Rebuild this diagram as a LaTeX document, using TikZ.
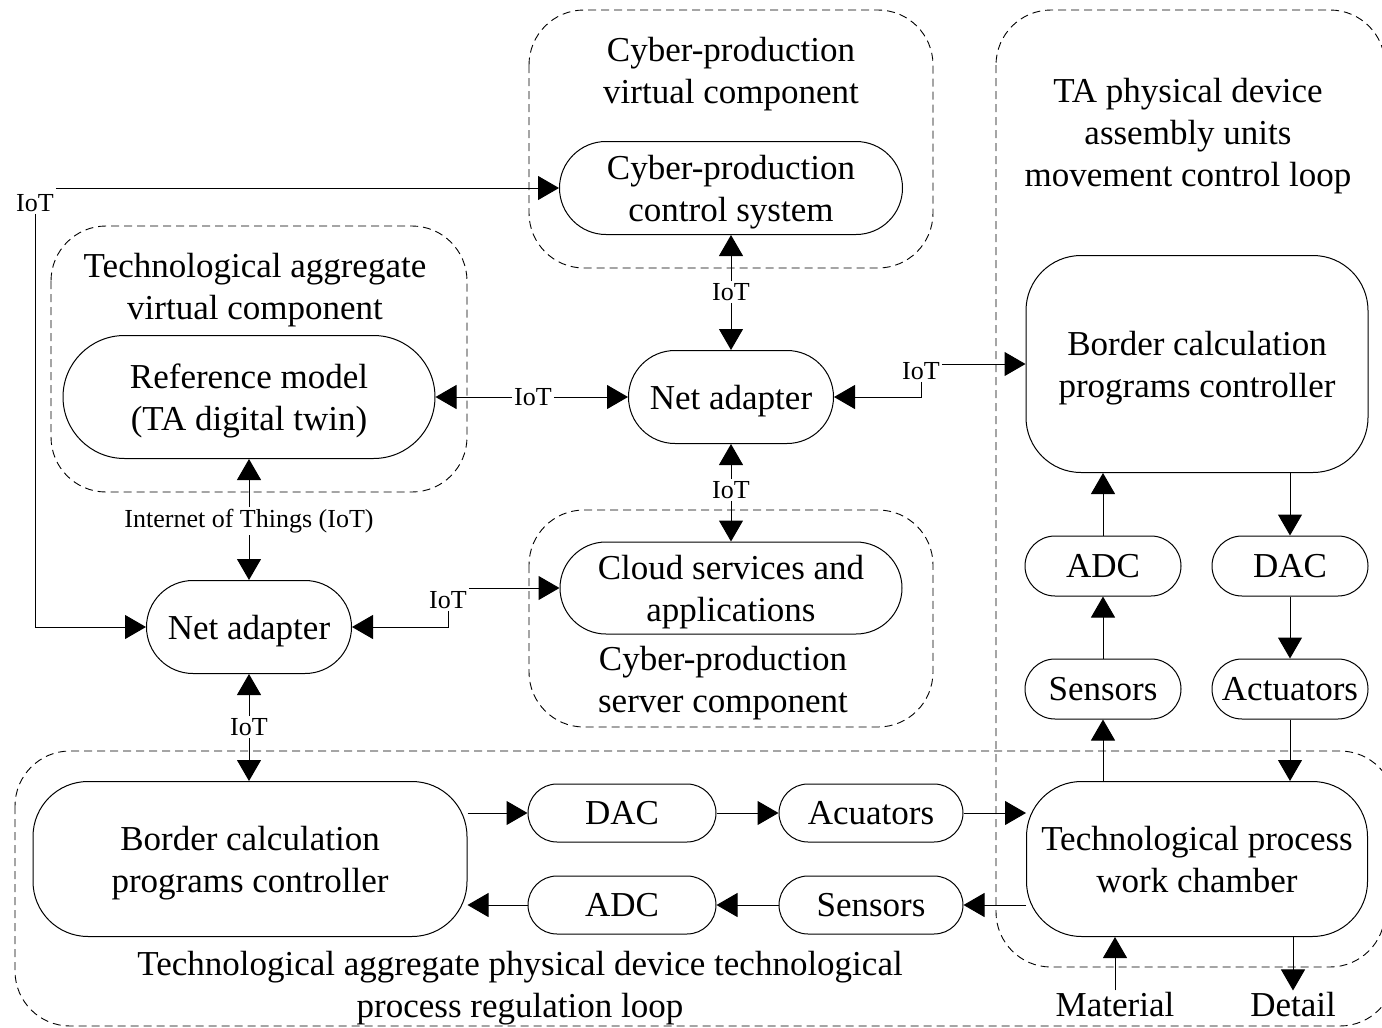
\documentclass[tikz,border=0pt]{standalone}
\usepackage{fontspec}
\setmainfont{Liberation Serif}
\usetikzlibrary{arrows.meta,shapes.misc}
\begin{document}
\begin{tikzpicture}[x=1pt,y=-1pt,
  big/.style={font=\fontsize{35}{42}\selectfont, align=center},
  small/.style={font=\fontsize{26}{30}\selectfont, inner sep=2pt},
  pill/.style={draw, rounded rectangle, big, text depth=0pt, inner sep=0pt, line width=1pt},
  rbox/.style={draw, rectangle, rounded corners=55pt, big, text depth=0pt, inner sep=0pt, line width=1pt},
  group/.style={draw, dash pattern=on 8pt off 5pt, line width=0.9pt, rounded corners=55pt},
  arr/.style={-{Triangle[length=21pt,width=24pt]}, line width=1pt},
  lbl/.style={big, inner sep=0pt}
]
\useasboundingbox (0,0) rectangle (1382,1028);

% groups
\draw[group] (529,10) rectangle (933,268);
\draw[group] (996,10) rectangle (1385,967);
\draw[group] (51,226) rectangle (467,492);
\draw[group] (529,510) rectangle (933,727);
\draw[group] (15,751) rectangle (1395,1026);

% group labels
\node[lbl] (tCPV) at (731,74) {Cyber-production\\virtual component};
\node[lbl] (tTAP) at (1188,136) {TA physical device\\assembly units\\movement control loop};
\node[lbl] (tTAV) at (255,290) {Technological aggregate\\virtual component};
\node[lbl] (tSRV) at (723,683) {Cyber-production\\server component};
\node[lbl] (tLOOP) at (520,988) {Technological aggregate physical device technological\\process regulation loop};

% nodes
\node[pill, minimum width=343pt, minimum height=93pt] (cps) at (731,188) {Cyber-production\\control system};
\node[pill, minimum width=372pt, minimum height=123pt] (ref) at (249,397) {Reference model\\(TA digital twin)};
\node[pill, minimum width=205pt, minimum height=93pt] (naC) at (731,397) {Net adapter};
\node[rbox, minimum width=342pt, minimum height=217pt] (bcr) at (1197,364) {Border calculation\\programs controller};
\node[pill, minimum width=156pt, minimum height=60pt] (adcR) at (1103,566) {ADC};
\node[pill, minimum width=156pt, minimum height=60pt] (dacR) at (1290,566) {DAC};
\node[pill, minimum width=156pt, minimum height=60pt] (senR) at (1103,689) {Sensors};
\node[pill, minimum width=156pt, minimum height=60pt] (actR) at (1290,689) {Actuators};
\node[pill, minimum width=342pt, minimum height=92pt] (cloud) at (731,588) {Cloud services and\\applications};
\node[pill, minimum width=205pt, minimum height=93pt] (naL) at (249,627) {Net adapter};
\node[rbox, minimum width=434pt, minimum height=155pt] (bcl) at (250,859) {Border calculation\\programs controller};
\node[pill, minimum width=188pt, minimum height=58pt] (dacB) at (622,813) {DAC};
\node[pill, minimum width=184pt, minimum height=58pt] (actB) at (871,813) {Acuators};
\node[pill, minimum width=188pt, minimum height=58pt] (adcB) at (622,905) {ADC};
\node[pill, minimum width=184pt, minimum height=58pt] (senB) at (871,905) {Sensors};
\node[rbox, minimum width=341pt, minimum height=155pt] (tpwc) at (1197,859) {Technological process\\work chamber};
\node[lbl, inner sep=2pt] (mat) at (1115,1005) {Material};
\node[lbl, inner sep=2pt] (det) at (1293,1005) {Detail};

% IoT labels
\node[small] (iotA) at (35,203) {IoT};
\node[small] (iotB) at (533,397) {IoT};
\node[small] (iotC) at (731,292) {IoT};
\node[small] (iotD) at (731,490) {IoT};
\node[small] (iotE) at (921,371) {IoT};
\node[small] (iotF) at (448,600) {IoT};
\node[small] (iotG) at (249,727) {IoT};
\node[small] (iotH) at (249,521) {Internet of Things (IoT)};

% IoT connectors
\draw[arr] (iotA.north east |- cps.west) -- (cps.west);
\draw[arr] (iotA.south) |- (naL.west);
\draw[arr] (iotB) -- (ref.east);
\draw[arr] (iotB) -- (naC.west);
\draw[arr] (iotC) -- (cps.south);
\draw[arr] (iotC) -- (naC.north);
\draw[arr] (iotD) -- (naC.south);
\draw[arr] (iotD) -- (cloud.north);
\draw[arr] (iotE.south) |- (naC.east);
\draw[arr] (iotE.east |- bcr.west) -- (bcr.west);
\draw[arr] (iotF.south) |- (naL.east);
\draw[arr] (iotF.east |- cloud.west) -- (cloud.west);
\draw[arr] (iotG) -- (naL.south);
\draw[arr] (iotG) -- (iotG |- bcl.north);
\draw[arr] (iotH) -- (ref.south);
\draw[arr] (iotH) -- (naL.north);

% bottom loop
\draw[arr] (bcl.east |- dacB.west) -- (dacB.west);
\draw[arr] (dacB.east) -- (actB.west);
\draw[arr] (actB.east) -- (tpwc.west |- actB.east);
\draw[arr] (tpwc.west |- senB.east) -- (senB.east);
\draw[arr] (senB.west) -- (adcB.east);
\draw[arr] (adcB.west) -- (bcl.east |- adcB.west);

% right loop
\draw[arr] (senR.south |- tpwc.north) -- (senR.south);
\draw[arr] (senR.north) -- (adcR.south);
\draw[arr] (adcR.north) -- (adcR.north |- bcr.south);
\draw[arr] (dacR.north |- bcr.south) -- (dacR.north);
\draw[arr] (dacR.south) -- (actR.north);
\draw[arr] (actR.south) -- (actR.south |- tpwc.north);

% material / detail
\draw[arr] (mat.north) -- (mat.north |- tpwc.south);
\draw[arr] (det.north |- tpwc.south) -- (det.north);
\end{tikzpicture}
\end{document}
